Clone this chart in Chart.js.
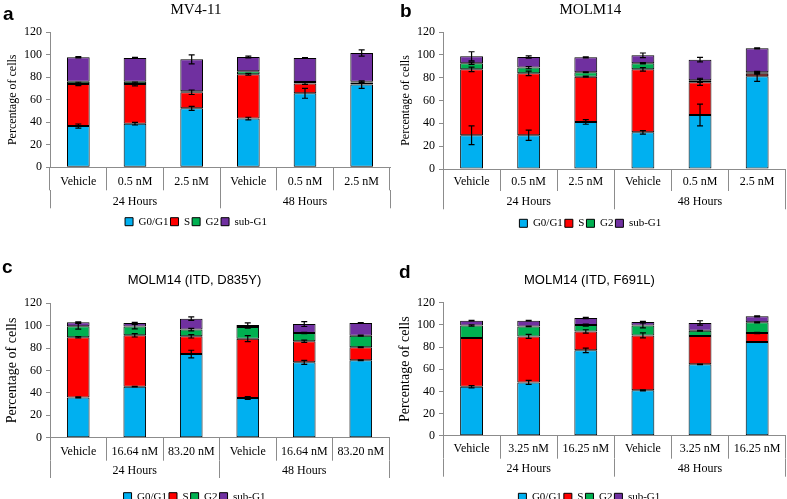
<!DOCTYPE html>
<html>
<head>
<meta charset="utf-8">
<script src="https://cdn.jsdelivr.net/npm/chart.js@4.4.0/dist/chart.umd.min.js"></script>
<style>
  html, body { margin: 0; padding: 0; background: #fff; }
  body { width: 787px; height: 499px; position: relative; overflow: hidden; }
  canvas { position: absolute; }
  .letter { position: absolute; font: bold 19px "Liberation Sans", Arial, sans-serif; line-height: 19px; color: #000; }
</style>
</head>
<body>
<canvas id="chartA" width="393" height="250" style="left:0;top:0"></canvas>
<canvas id="chartB" width="394" height="250" style="left:393px;top:0"></canvas>
<canvas id="chartC" width="393" height="270" style="left:0;top:250px"></canvas>
<canvas id="chartD" width="394" height="270" style="left:393px;top:250px"></canvas>
<div class="letter" style="left:3px;top:4px">a</div>
<div class="letter" style="left:400px;top:1px">b</div>
<div class="letter" style="left:2px;top:257px">c</div>
<div class="letter" style="left:399px;top:262px">d</div>
<script>
// categories
const seriesNames = ['G0/G1', 'S', 'G2', 'sub-G1'];
const groupLabels = ['24 Hours', '48 Hours'];
const doseLabelsAB = ['Vehicle', '0.5 nM', '2.5 nM', 'Vehicle', '0.5 nM', '2.5 nM'];
const doseLabelsC = ['Vehicle', '16.64 nM', '83.20 nM', 'Vehicle', '16.64 nM', '83.20 nM'];
const doseLabelsD = ['Vehicle', '3.25 nM', '16.25 nM', 'Vehicle', '3.25 nM', '16.25 nM'];
const yTicks = [0, 20, 40, 60, 80, 100, 120];

// a: MV4-11
const aG0 = [36.7, 38.8, 52.4, 43.3, 65.8, 73.5];
const aS = [37.4, 35.3, 14.3, 39.4, 8.6, 1.8];
const aG2 = [2.0, 2.0, 0.9, 2.6, 1.5, 0.8];
const aSub = [21.7, 21.1, 28.4, 12.8, 21.3, 25.5];
const aG0Err = [1.8, 1.2, 1.8, 1.2, 4.4, 3.3];
const aSErr = [1.5, 1.7, 2.0, 0.8, 0.8, 0.5];
const aG2Err = [0, 0, 0, 0, 0, 0];
const aSubErr = [0.5, 0.5, 4.0, 0.8, 0.3, 2.7];

// b: MOLM14
const bG0 = [29.5, 29.5, 41.2, 32.1, 47.3, 81.2];
const bS = [57.8, 54.3, 39.7, 55.2, 28.6, 2.3];
const bG2 = [5.3, 5.0, 3.8, 5.3, 1.8, 1.2];
const bSub = [6.1, 9.3, 13.1, 7.0, 18.1, 21.0];
const bG0Err = [8.2, 4.5, 2.0, 1.5, 9.6, 4.4];
const bSErr = [2.0, 2.0, 0.5, 1.5, 2.6, 0.5];
const bG2Err = [1.0, 1.0, 0.3, 0.5, 1.8, 0.3];
const bSubErr = [4.0, 1.0, 0.5, 2.0, 2.0, 0.5];

// c: MOLM14 (ITD, D835Y)
const cG0 = [36.0, 45.6, 74.7, 35.4, 67.3, 69.1];
const cS = [53.6, 45.8, 15.8, 53.0, 18.8, 11.6];
const cG2 = [9.9, 7.8, 6.0, 10.5, 7.4, 10.4];
const cSub = [3.5, 3.2, 9.8, 1.8, 8.0, 11.3];
const cG0Err = [0.5, 0.3, 3.4, 1.2, 1.8, 0.4];
const cSErr = [0.6, 1.5, 1.5, 2.7, 1.0, 0.4];
const cG2Err = [2.5, 2.0, 1.2, 1.0, 0.5, 0.4];
const cSubErr = [0.5, 0.5, 1.5, 1.8, 2.2, 0.4];

// d: MOLM14 (ITD, F691L)
const dG0 = [44.2, 48.1, 77.0, 40.9, 64.4, 84.5];
const dS = [43.9, 41.5, 17.1, 49.6, 25.5, 8.1];
const dG2 = [11.4, 9.0, 5.7, 9.0, 4.8, 9.7];
const dSub = [4.3, 5.2, 6.4, 3.1, 7.0, 5.4];
const dG0Err = [1.0, 1.8, 2.0, 0.5, 0.3, 0.3];
const dSErr = [0.3, 1.8, 1.5, 2.3, 0.3, 0.6];
const dG2Err = [0.6, 0.3, 1.0, 2.2, 0.3, 0.5];
const dSubErr = [0.3, 0.3, 0.5, 0.5, 2.0, 0.5];

const seriesColors = ['#00B0F0', '#FF0000', '#00B050', '#7030A0'];
const axisGray = '#8c8c8c';
const serif = '"Liberation Serif", "Times New Roman", serif';
const sans = '"Liberation Sans", Arial, sans-serif';

// error bars drawn at the top of each stacked segment
const errorBars = {
  id: 'errorBars',
  afterDatasetsDraw(chart) {
    const ctx = chart.ctx;
    const yScale = chart.scales.y;
    ctx.save();
    ctx.strokeStyle = '#000';
    ctx.lineWidth = 1.2;
    chart.data.datasets.forEach((ds, i) => {
      const meta = chart.getDatasetMeta(i);
      meta.data.forEach((bar, j) => {
        const err = ds.errors[j];
        if (!err) return;
        let total = 0;
        for (let k = 0; k <= i; k++) total += chart.data.datasets[k].data[j];
        const yHi = yScale.getPixelForValue(total + err);
        const yLo = yScale.getPixelForValue(total - err);
        const x = bar.x;
        ctx.beginPath();
        ctx.moveTo(x, yHi); ctx.lineTo(x, yLo);
        ctx.moveTo(x - 3, yHi); ctx.lineTo(x + 3, yHi);
        ctx.moveTo(x - 3, yLo); ctx.lineTo(x + 3, yLo);
        ctx.stroke();
      });
    });
    ctx.restore();
  }
};

function makePanel(id, cfg) {
  return new Chart(document.getElementById(id), {
    type: 'bar',
    data: {
      labels: cfg.labels,
      datasets: seriesNames.map((name, i) => ({
        label: name,
        data: cfg.values[i],
        errors: cfg.errors[i],
        backgroundColor: seriesColors[i],
        borderColor: '#000',
        borderWidth: 1,
        borderSkipped: false,
        barPercentage: 0.4,
        categoryPercentage: 1
      }))
    },
    plugins: [errorBars],
    options: {
      responsive: false,
      animation: false,
      layout: { padding: { left: cfg.padLeft, right: cfg.padRight, top: 0, bottom: cfg.padBottom } },
      plugins: {
        title: {
          display: true,
          text: cfg.title,
          font: cfg.titleFont,
          color: '#000',
          padding: { top: cfg.titleTop, bottom: cfg.titleBottom }
        },
        legend: {
          position: 'bottom',
          labels: { boxWidth: 8, boxHeight: 8, padding: 2, color: '#000', font: { family: serif, size: 11 } }
        },
        tooltip: { enabled: false }
      },
      scales: {
        x: {
          stacked: true,
          offset: true,
          weight: 0,
          grid: { offset: true, drawOnChartArea: false, tickLength: cfg.xTick, color: axisGray },
          border: { display: true, color: axisGray },
          ticks: { autoSkip: false, maxRotation: 0, minRotation: 0, padding: cfg.xPad, color: '#000', font: { family: serif, size: 12 } },
          afterFit: s => { s.height = cfg.xH; }
        },
        x2: {
          type: 'category',
          labels: groupLabels,
          position: 'bottom',
          offset: true,
          weight: 1,
          grid: { offset: true, drawOnChartArea: false, tickLength: cfg.x2Tick, color: axisGray },
          border: { display: false },
          ticks: { autoSkip: false, maxRotation: 0, padding: cfg.x2Pad, color: '#000', font: { family: serif, size: 12 } },
          afterFit: s => { s.height = cfg.x2H; }
        },
        y: {
          stacked: true,
          min: yTicks[0],
          max: yTicks[yTicks.length - 1],
          afterBuildTicks: s => { s.ticks = yTicks.map(v => ({ value: v })); },
          grid: { drawOnChartArea: false, tickLength: 4, color: axisGray },
          border: { display: true, color: axisGray },
          ticks: { padding: 4, color: '#000', font: { family: serif, size: 12 } },
          title: { display: true, text: 'Percentage of cells', color: '#000', font: { family: serif, size: cfg.yTitleSize }, padding: { top: 4, bottom: 4 } },
          afterFit: s => { s.width = 50 - cfg.padLeft; }
        }
      }
    }
  });
}

makePanel('chartA', {
  title: 'MV4-11', titleFont: { family: serif, size: 15, weight: 'normal' }, titleTop: 1, titleBottom: 13.3,
  labels: doseLabelsAB,
  values: [aG0, aS, aG2, aSub], errors: [aG0Err, aSErr, aG2Err, aSubErr],
  padLeft: 2, padRight: 3, padBottom: 12.8, yTitleSize: 12,
  xTick: 23, xPad: -15.8, xH: 23, x2Tick: 18, x2Pad: -13.8, x2H: 23.9
});
makePanel('chartB', {
  title: 'MOLM14', titleFont: { family: serif, size: 15, weight: 'normal' }, titleTop: 1, titleBottom: 13,
  labels: doseLabelsAB,
  values: [bG0, bS, bG2, bSub], errors: [bG0Err, bSErr, bG2Err, bSubErr],
  padLeft: 2, padRight: 1.3, padBottom: 11.2, yTitleSize: 12,
  xTick: 22, xPad: -15.9, xH: 22, x2Tick: 18.3, x2Pad: -14.2, x2H: 24.8
});
makePanel('chartC', {
  title: 'MOLM14 (ITD, D835Y)', titleFont: { family: sans, size: 13, weight: 'normal' }, titleTop: 22.7, titleBottom: 15,
  labels: doseLabelsC,
  values: [cG0, cS, cG2, cSub], errors: [cG0Err, cSErr, cG2Err, cSubErr],
  padLeft: 0, padRight: 4, padBottom: 7.8, yTitleSize: 14,
  xTick: 23, xPad: -16.2, xH: 23, x2Tick: 17.3, x2Pad: -14.2, x2H: 28.5
});
makePanel('chartD', {
  title: 'MOLM14 (ITD, F691L)', titleFont: { family: sans, size: 13, weight: 'normal' }, titleTop: 22.7, titleBottom: 14.4,
  labels: doseLabelsD,
  values: [dG0, dS, dG2, dSub], errors: [dG0Err, dSErr, dG2Err, dSubErr],
  padLeft: 0, padRight: 1.3, padBottom: 7.2, yTitleSize: 14,
  xTick: 23, xPad: -16.6, xH: 23, x2Tick: 18, x2Pad: -14.6, x2H: 31.1
});
</script>
</body>
</html>
